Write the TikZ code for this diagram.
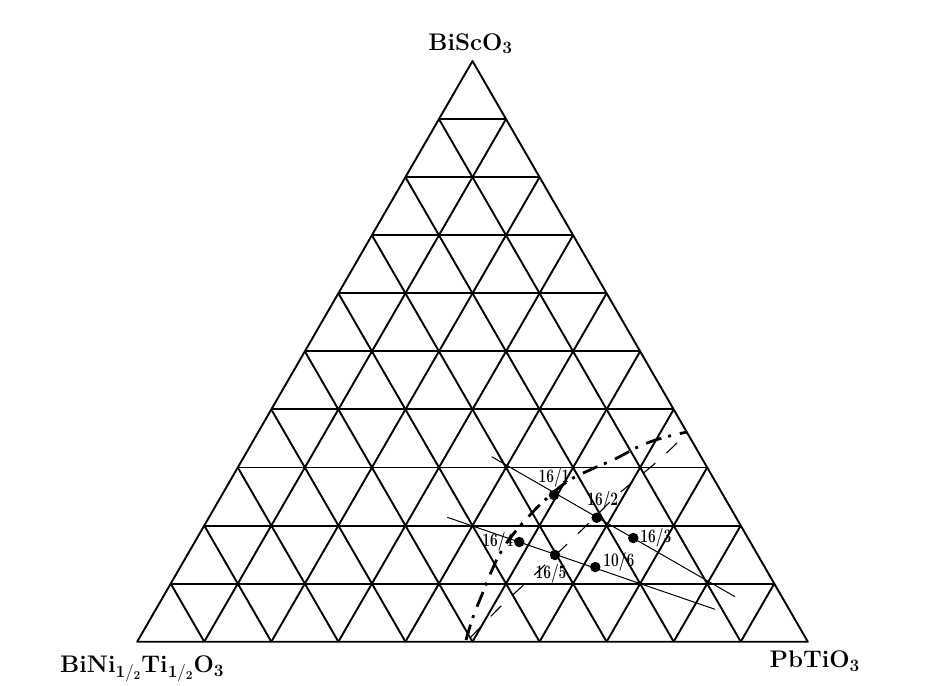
\documentclass[tikz,border=0pt]{standalone}
\usepackage{tikz}
\usetikzlibrary{calc,positioning}

\newcommand{\hand}[1]{\scalebox{0.72}[1]{#1}}

\begin{document}
\begin{tikzpicture}[
  x=1pt, y=-1pt,
  gridline/.style={line width=1.9pt, line join=round},
  guide/.style={line width=1pt},
  sample/.style={circle, fill, inner sep=0pt, minimum size=10.5pt},
  tag/.style={font=\fontsize{19}{19}\selectfont\bfseries, inner sep=0.5pt},
  vertexlabel/.style={font=\fontsize{24}{28}\selectfont\bfseries, inner sep=0pt},
  bound/.style={line width=2.8pt, dash pattern=on 16pt off 7pt on 3pt off 9pt},
  trend/.style={line width=1.1pt, dash pattern=on 15pt off 15pt}
]
\useasboundingbox (0,0) rectangle (930,686);

% corners of the ternary diagram
\coordinate (top) at (472.5,61);
\coordinate (left) at (137.2,641.7);
\coordinate (right) at (807.8,641.7);

\node[vertexlabel, above=7pt of top, xshift=-2pt] (bsc) {BiScO$_{\mathbf{3}}$};
\node[vertexlabel, below=14pt of left, xshift=5pt] (bnt) {BiNi$_{\mathbf{1}/_{\mathbf{2}}}$Ti$_{\mathbf{1}/_{\mathbf{2}}}$O$_{\mathbf{3}}$};
\node[vertexlabel, below=9pt of right, xshift=7pt] (pt) {PbTiO$_{\mathbf{3}}$};

% 10 x 10 grid
\draw[gridline] (left) -- (right) -- (top) -- cycle;
\foreach \i in {1,...,9}{
  \draw[gridline] ($(left)!\i/10!(top)$) -- ($(right)!\i/10!(top)$);
  \draw[gridline] ($(left)!\i/10!(right)$) -- ($(right)!{1-\i/10}!(top)$);
  \draw[gridline] ($(left)!\i/10!(right)$) -- ($(left)!\i/10!(top)$);
}

% sections through the samples
\coordinate (g1a) at (491.7,456.7);
\coordinate (g1b) at (735,596.7);
\coordinate (g2a) at (447.3,517.3);
\coordinate (g2b) at (715,609.3);
\draw[guide] (g1a) -- (g1b);
\draw[guide] (g2a) -- (g2b);

% phase boundaries
\draw[bound] plot[smooth, tension=0.6] coordinates {(466,640) (473,617) (481,597) (492,570) (502,550) (515,532) (530,515) (546,499) (568,481) (592,469) (615,459) (640,446) (662,438) (687,432)};
\draw[trend] plot[smooth] coordinates {(470,638) (500,607) (530,579) (562,549) (590,522) (615,497) (640,476) (660,459) (677,443)};

% samples
\node[sample] (s1) at (554,495) {};
\node[sample] (s2) at (596.7,517.7) {};
\node[sample] (s3) at (633.3,538) {};
\node[sample] (s4) at (519.3,542) {};
\node[sample] (s5) at (555,555) {};
\node[sample] (s6) at (595.3,567) {};
\node[tag, above=2pt of s1] (t1) {\hand{16/1}};
\node[tag, above=1.5pt of s2, xshift=6pt] (t2) {\hand{16/2}};
\node[tag, right=1pt of s3] (t3) {\hand{16/3}};
\node[tag, left=0pt of s4] (t4) {\hand{16/4}};
\node[tag, below=3pt of s5, xshift=-4pt] (t5) {\hand{16/5}};
\node[tag, right=2pt of s6, yshift=5pt] (t6) {\hand{10/6}};
\end{tikzpicture}
\end{document}
